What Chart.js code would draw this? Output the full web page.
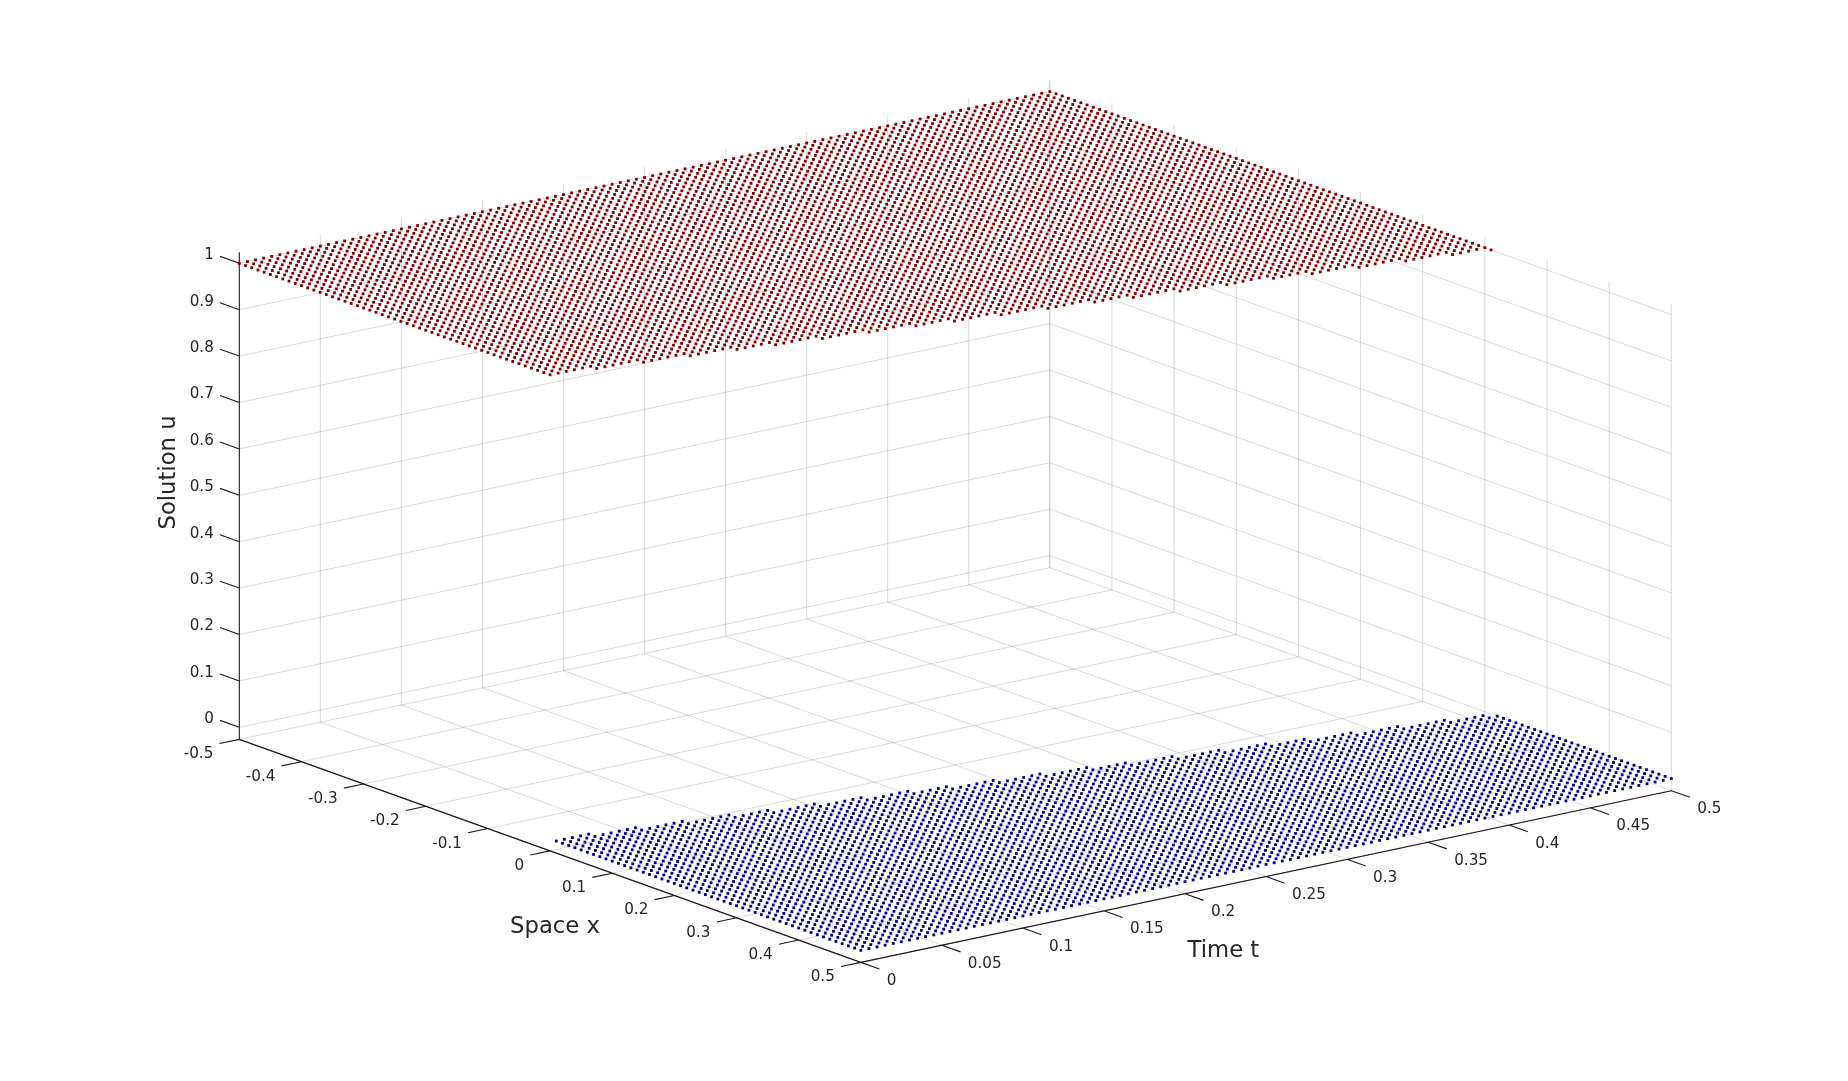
<!DOCTYPE html>
<html>
<head>
<meta charset="utf-8">
<title>Solution u over space x and time t</title>
<style>
html,body{margin:0;padding:0;background:#fff}
canvas{display:block}
</style>
<script src="https://cdn.jsdelivr.net/npm/chart.js@4"></script>
</head>
<body>
<canvas id="c" width="1848" height="1081"></canvas>
<script>
// ---- data ----
const xSamples = [-0.5,-0.49,-0.48,-0.47,-0.46,-0.45,-0.44,-0.43,-0.42,-0.41,-0.4,-0.39,-0.38,-0.37,-0.36,-0.35,-0.34,-0.33,-0.32,-0.31,-0.3,-0.29,-0.28,-0.27,-0.26,-0.25,-0.24,-0.23,-0.22,-0.21,-0.2,-0.19,-0.18,-0.17,-0.16,-0.15,-0.14,-0.13,-0.12,-0.11,-0.1,-0.09,-0.08,-0.07,-0.06,-0.05,-0.04,-0.03,-0.02,-0.01,0,0.01,0.02,0.03,0.04,0.05,0.06,0.07,0.08,0.09,0.1,0.11,0.12,0.13,0.14,0.15,0.16,0.17,0.18,0.19,0.2,0.21,0.22,0.23,0.24,0.25,0.26,0.27,0.28,0.29,0.3,0.31,0.32,0.33,0.34,0.35,0.36,0.37,0.38,0.39,0.4,0.41,0.42,0.43,0.44,0.45,0.46,0.47,0.48,0.49,0.5];
const tSamples = [0,0.005,0.01,0.015,0.02,0.025,0.03,0.035,0.04,0.045,0.05,0.055,0.06,0.065,0.07,0.075,0.08,0.085,0.09,0.095,0.1,0.105,0.11,0.115,0.12,0.125,0.13,0.135,0.14,0.145,0.15,0.155,0.16,0.165,0.17,0.175,0.18,0.185,0.19,0.195,0.2,0.205,0.21,0.215,0.22,0.225,0.23,0.235,0.24,0.245,0.25,0.255,0.26,0.265,0.27,0.275,0.28,0.285,0.29,0.295,0.3,0.305,0.31,0.315,0.32,0.325,0.33,0.335,0.34,0.345,0.35,0.355,0.36,0.365,0.37,0.375,0.38,0.385,0.39,0.395,0.4,0.405,0.41,0.415,0.42,0.425,0.43,0.435,0.44,0.445,0.45,0.455,0.46,0.465,0.47,0.475,0.48,0.485,0.49,0.495,0.5];
// last x of the u=1 region at each time sample (the front between red and blue)
const frontX = [0,0,0,0,0,0.01,0.01,0.01,0.01,0.01,0.02,0.02,0.02,0.02,0.02,0.03,0.03,0.03,0.03,0.03,0.04,0.04,0.04,0.04,0.05,0.05,0.05,0.05,0.05,0.06,0.06,0.06,0.06,0.06,0.07,0.07,0.07,0.07,0.07,0.08,0.08,0.08,0.08,0.09,0.09,0.09,0.09,0.09,0.1,0.1,0.1,0.1,0.1,0.11,0.11,0.11,0.11,0.11,0.12,0.12,0.12,0.12,0.13,0.13,0.13,0.13,0.13,0.14,0.14,0.14,0.14,0.14,0.15,0.15,0.15,0.15,0.15,0.16,0.16,0.16,0.16,0.17,0.17,0.17,0.17,0.17,0.18,0.18,0.18,0.18,0.18,0.19,0.19,0.19,0.19,0.19,0.2,0.2,0.2,0.2,0.21];
const uLeft = 1;
const uRight = 0;
const xTicks = [-0.5,-0.4,-0.3,-0.2,-0.1,0,0.1,0.2,0.3,0.4,0.5];
const tTicks = [0,0.05,0.1,0.15,0.2,0.25,0.3,0.35,0.4,0.45,0.5];
const uTicks = [0,0.1,0.2,0.3,0.4,0.5,0.6,0.7,0.8,0.9,1];
const xLimits = [-0.5,0.5];
const tLimits = [0,0.5];
const uLimits = [-0.026,1.024];
const xTitle = 'Space x';
const tTitle = 'Time t';
const uTitle = 'Solution u';

// ---- orthographic view used by the figure ----
function view(x,t,u){
  return {
    x: 239.3 + (x+0.5)*621.5 + t*1621,
    y: 727.3 + (x+0.5)*223 - t*343.4 - u*464
  };
}
const GAP = {x:NaN,y:NaN};
function polyline(segments){
  const out = [];
  segments.forEach(s => { out.push(view(...s[0]), view(...s[1]), GAP); });
  return out;
}

// ---- gridlines on the floor and the two back walls ----
const [x0,x1] = xLimits, [t0,t1] = tLimits, [u0,u1] = uLimits;
const gridSegs = [];
xTicks.forEach(x => {
  gridSegs.push([[x,t0,u0],[x,t1,u0]]);
  gridSegs.push([[x,t1,u0],[x,t1,u1]]);
});
tTicks.forEach(t => {
  gridSegs.push([[x0,t,u0],[x1,t,u0]]);
  if (t !== t0) gridSegs.push([[x0,t,u0],[x0,t,u1]]);
});
uTicks.forEach(u => {
  gridSegs.push([[x0,t0,u],[x0,t1,u]]);
  gridSegs.push([[x0,t1,u],[x1,t1,u]]);
});

// ---- axes and tick marks ----
const axisSegs = [
  [[x0,t0,u0],[x0,t0,u1]],
  [[x0,t0,u0],[x1,t0,u0]],
  [[x1,t0,u0],[x1,t1,u0]]
];
xTicks.forEach(x => axisSegs.push([[x,t0,u0],[x,t0-0.0122,u0]]));
tTicks.forEach(t => axisSegs.push([[x1,t,u0],[x1+0.03,t,u0]]));
uTicks.forEach(u => axisSegs.push([[x0,t0,u],[x0-0.031,t0,u]]));

// ---- solution samples ----
const redPts = [], bluePts = [];
tSamples.forEach((t,k) => {
  xSamples.forEach(x => {
    if (x <= frontX[k] + 1e-9) redPts.push(view(x,t,uLeft));
    else bluePts.push(view(x,t,uRight));
  });
});

// ---- tick labels and axis titles, placed from the same view ----
const INK = '#262626';
const textPlugin = {
  id:'figureText',
  afterDatasetsDraw(chart){
    const {ctx, scales:{x:sx,y:sy}} = chart;
    const put = (txt,px,py,align) => {
      ctx.textAlign = align; ctx.textBaseline = 'middle';
      ctx.fillText(txt, px, py);
    };
    ctx.save();
    ctx.fillStyle = INK;
    ctx.font = '15.2px "DejaVu Sans"';
    xTicks.forEach(v => {
      const p = view(v,t0,u0);
      put(String(v), sx.getPixelForValue(p.x)-26, sy.getPixelForValue(p.y)+15, 'right');
    });
    tTicks.forEach(v => {
      const p = view(x1,v,u0);
      put(String(v), sx.getPixelForValue(p.x)+26, sy.getPixelForValue(p.y)+18.7, 'left');
    });
    uTicks.forEach(v => {
      const p = view(x0,t0,v);
      put(String(v), sx.getPixelForValue(p.x)-25.5, sy.getPixelForValue(p.y)-8.1, 'right');
    });
    ctx.font = '22.7px "DejaVu Sans"';
    put(xTitle, sx.getPixelForValue(555), sy.getPixelForValue(926.9), 'center');
    put(tTitle, sx.getPixelForValue(1223.4), sy.getPixelForValue(951), 'center');
    ctx.translate(sx.getPixelForValue(169), sy.getPixelForValue(472.5));
    ctx.rotate(-Math.PI/2);
    put(uTitle, 0, 0, 'center');
    ctx.restore();
  }
};

const lineSet = (label,data,color,z,w) => ({
  label, data, showLine:true, spanGaps:false, pointRadius:0, pointHoverRadius:0,
  borderColor:color, borderWidth:w, order:z, fill:false, tension:0
});
const dotSet = (label,data,color,z) => ({
  label, data, showLine:false, pointStyle:'rect', pointRadius:2, pointHoverRadius:2,
  pointBackgroundColor:color, pointBorderWidth:0, backgroundColor:color, borderWidth:0, order:z
});

new Chart(document.getElementById('c'),{
  type:'scatter',
  data:{datasets:[
    dotSet('u = 1',redPts,'#800000',1),
    dotSet('u = 0',bluePts,'#00008f',2),
    lineSet('axes',polyline(axisSegs),'#1a1a1a',3,1.1),
    lineSet('grid',polyline(gridSegs),'rgba(38,38,38,0.17)',4,1)
  ]},
  options:{
    responsive:false, animation:false, devicePixelRatio:1,
    layout:{padding:0,autoPadding:false},
    events:[],
    plugins:{legend:{display:false},tooltip:{enabled:false},title:{display:false}},
    scales:{
      x:{type:'linear',display:false,min:0,max:1848},
      y:{type:'linear',display:false,min:0,max:1081,reverse:true}
    }
  },
  plugins:[textPlugin]
});
</script>
</body>
</html>
